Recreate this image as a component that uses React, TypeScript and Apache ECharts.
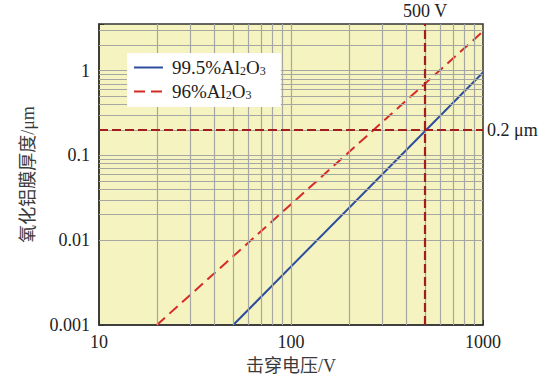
import React, { useEffect, useRef } from "react";
import * as echarts from "echarts";

// Breakdown voltage (V) vs oxide film thickness (μm)
const seriesNames = ["99.5%Al2O3", "96%Al2O3"];
const voltage995 = [50, 1000];
const thickness995 = [0.001, 0.95];
const voltage96 = [20, 1000];
const thickness96 = [0.001, 2.9];

const xTickValues = [10, 100, 1000];
const xTickLabels = ["10", "100", "1000"];
const yTickValues = [0.001, 0.01, 0.1, 1];
const yTickLabels = ["0.001", "0.01", "0.1", "1"];

const xGridValues = [20, 30, 40, 50, 60, 70, 80, 90, 100, 200, 300, 400, 500, 600, 700, 800, 900];
const yGridValues = [
  0.002, 0.003, 0.004, 0.005, 0.006, 0.007, 0.008, 0.009, 0.01,
  0.02, 0.03, 0.04, 0.05, 0.06, 0.07, 0.08, 0.09, 0.1,
  0.2, 0.3, 0.4, 0.5, 0.6, 0.7, 0.8, 0.9, 1, 2, 3,
];

const markVoltage = 500;
const markVoltageLabel = "500 V";
const markThickness = 0.2;
const markThicknessLabel = "0.2 μm";

const xName = "击穿电压/V";
const yName = "氧化铝膜厚度/μm";

const SERIF = "'Liberation Serif', 'Times New Roman', 'Noto Sans CJK SC', serif";

function tickLabel(values: number[], labels: string[]) {
  return (v: number) => {
    for (let i = 0; i < values.length; i++) {
      if (Math.abs(Math.log10(v) - Math.log10(values[i])) < 1e-6) return labels[i];
    }
    return "";
  };
}

export default function App() {
  const ref = useRef<HTMLDivElement>(null);
  useEffect(() => {
    if (!ref.current) return;
    const chart = echarts.init(ref.current, undefined, { renderer: "svg" });
    const gridLine = { color: "#a6a6a2", width: 1.2, type: "solid" as const };
    chart.setOption({
      animation: false,
      textStyle: { fontFamily: SERIF },
      grid: {
        left: 99,
        right: 77,
        top: 24,
        bottom: 53,
        show: true,
        backgroundColor: "#f5f4c0",
        borderColor: "#333",
        borderWidth: 1.5,
      },
      legend: {
        orient: "vertical",
        left: 127,
        top: 53,
        z: 20,
        zlevel: 0,
        data: seriesNames,
        backgroundColor: "#ffffff",
        borderWidth: 0,
        padding: [5, 15, 6, 6],
        itemWidth: 29,
        itemHeight: 14,
        itemGap: 5,
        itemStyle: { opacity: 0 },
        formatter: (name: string) => name.replace("Al2O3", "Al{s|2}O{s|3}"),
        textStyle: {
          fontFamily: SERIF,
          fontSize: 19,
          color: "#222",
          padding: [0, 0, 0, 4],
          rich: {
            s: { fontSize: 12, fontFamily: SERIF, color: "#222", verticalAlign: "bottom", padding: [7, 0, 0, 0] },
          },
        },
      },
      xAxis: {
        type: "log",
        logBase: 10,
        min: 10,
        max: 1000,
        name: xName,
        nameLocation: "middle",
        nameGap: 32,
        nameTextStyle: { fontSize: 18, color: "#3a3a3a", fontFamily: SERIF },
        axisLine: { lineStyle: { color: "#333", width: 1.5 } },
        axisTick: { inside: true, length: 5, lineStyle: { color: "#333" } },
        axisLabel: {
          fontSize: 18,
          color: "#222",
          margin: 8,
          fontFamily: SERIF,
          formatter: tickLabel(xTickValues, xTickLabels),
        },
        splitLine: { show: false },
        minorTick: { show: false },
      },
      yAxis: {
        type: "log",
        logBase: 10,
        min: 0.001,
        max: 3.55,
        name: yName,
        nameLocation: "middle",
        nameGap: 62,
        nameTextStyle: { fontSize: 18, color: "#3a3a3a", fontFamily: SERIF },
        axisLine: { lineStyle: { color: "#333", width: 1.5 } },
        axisTick: { inside: true, length: 5, lineStyle: { color: "#333" } },
        axisLabel: {
          fontSize: 18,
          color: "#222",
          margin: 9,
          fontFamily: SERIF,
          formatter: tickLabel(yTickValues, yTickLabels),
        },
        splitLine: { show: false },
      },
      series: [
        {
          name: "grid",
          type: "line",
          z: 1,
          silent: true,
          symbol: "none",
          data: [],
          markLine: {
            silent: true,
            symbol: "none",
            animation: false,
            label: { show: false },
            lineStyle: gridLine,
            emphasis: { disabled: true },
            data: [
              ...xGridValues.map((v) => ({ xAxis: v })),
              ...yGridValues.map((v) => ({ yAxis: v })),
            ],
          },
        },
        {
          name: seriesNames[0],
          type: "line",
          z: 3,
          symbol: "none",
          data: voltage995.map((v, i) => [v, thickness995[i]]),
          lineStyle: { color: "#2c4d9d", width: 2 },
          itemStyle: { color: "#2c4d9d" },
        },
        {
          name: seriesNames[1],
          type: "line",
          z: 3,
          symbol: "none",
          data: voltage96.map((v, i) => [v, thickness96[i]]),
          lineStyle: { color: "#d62a27", width: 2, type: [11, 6] },
          itemStyle: { color: "#d62a27" },
        },
        {
          name: "marks",
          type: "line",
          z: 4,
          silent: true,
          symbol: "none",
          data: [],
          markLine: {
            silent: true,
            symbol: "none",
            animation: false,
            lineStyle: { color: "#a31d1d", width: 2.2, type: [9, 4] },
            emphasis: { disabled: true },
            data: [
              {
                xAxis: markVoltage,
                label: {
                  show: true,
                  position: "end",
                  formatter: markVoltageLabel,
                  fontSize: 18,
                  color: "#222",
                  fontFamily: SERIF,
                  distance: 4,
                },
              },
              {
                yAxis: markThickness,
                label: {
                  show: true,
                  position: "end",
                  formatter: markThicknessLabel,
                  fontSize: 18,
                  color: "#222",
                  fontFamily: SERIF,
                  distance: 4,
                },
              },
            ],
          },
        },
      ],
    });
    return () => chart.dispose();
  }, []);
  return <div ref={ref} style={{ width: 560, height: 380, position: "absolute", left: 0, top: 0 }} />;
}
